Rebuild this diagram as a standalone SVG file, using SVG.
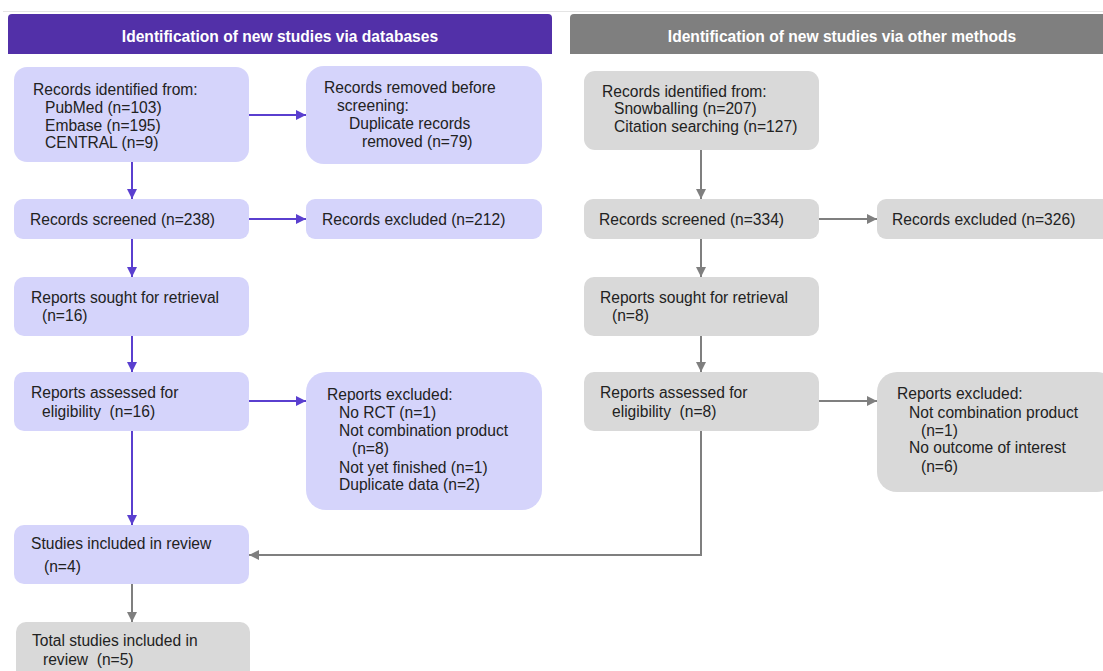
<svg xmlns="http://www.w3.org/2000/svg" width="1103" height="671" viewBox="0 0 1103 671">
<style>
text{font-family:"Liberation Sans",Arial,sans-serif;font-size:15.6px;fill:#222;white-space:pre}
.hd{font-weight:bold;fill:#fff;text-anchor:middle}
.pb{fill:#D5D4FB}
.gb{fill:#D9D9D9}
.pl{stroke:#5A3FCF;stroke-width:2;fill:none}
.gl{stroke:#7F7F7F;stroke-width:2;fill:none}
</style>
<defs>
<marker id="ap" viewBox="0 0 10 10" refX="10" refY="5" markerWidth="10" markerHeight="10" markerUnits="userSpaceOnUse" orient="auto"><path d="M0,0 L10,5 L0,10 z" fill="#5A3FCF"/></marker>
<marker id="ag" viewBox="0 0 10 10" refX="10" refY="5" markerWidth="10" markerHeight="10" markerUnits="userSpaceOnUse" orient="auto"><path d="M0,0 L10,5 L0,10 z" fill="#7F7F7F"/></marker>
</defs>
<rect width="1103" height="671" fill="#fff"/>
<line x1="3" y1="11.5" x2="1103" y2="11.5" stroke="#E4E4E4" stroke-width="1"/>

<g id="header-db">
<path d="M8,54 V18 Q8,14 12,14 H548 Q552,14 552,18 V54 Z" fill="#5230A8"/>
<text class="hd" x="280" y="42">Identification of new studies via databases</text>
</g>
<g id="header-other">
<path d="M570,54 V18 Q570,14 574,14 H1110 V54 Z" fill="#7F7F7F"/>
<text class="hd" x="842" y="42">Identification of new studies via other methods</text>
</g>

<g id="db-identified">
<rect class="pb" x="14" y="67" width="235" height="95" rx="13"/>
<text x="33" y="95">Records identified from:</text>
<text x="45" y="113">PubMed (n=103)</text>
<text x="45" y="131">Embase (n=195)</text>
<text x="45" y="148">CENTRAL (n=9)</text>
</g>
<g id="db-removed">
<rect class="pb" x="306" y="66" width="236" height="98" rx="18"/>
<text x="324" y="93">Records removed before</text>
<text x="337" y="111">screening:</text>
<text x="349" y="129">Duplicate records</text>
<text x="362" y="147">removed (n=79)</text>
</g>
<g id="db-screened">
<rect class="pb" x="14" y="199" width="235" height="40" rx="9"/>
<text x="30" y="225">Records screened (n=238)</text>
</g>
<g id="db-excluded">
<rect class="pb" x="306" y="199" width="236" height="40" rx="9"/>
<text x="322" y="225">Records excluded (n=212)</text>
</g>
<g id="db-sought">
<rect class="pb" x="14" y="277" width="235" height="59" rx="10"/>
<text x="31" y="303">Reports sought for retrieval</text>
<text x="42" y="321">(n=16)</text>
</g>
<g id="db-assessed">
<rect class="pb" x="14" y="372" width="235" height="59" rx="10"/>
<text x="31" y="398">Reports assessed for</text>
<text x="42" y="417">eligibility  (n=16)</text>
</g>
<g id="db-reports-excluded">
<rect class="pb" x="306" y="372" width="236" height="138" rx="20"/>
<text x="327" y="400">Reports excluded:</text>
<text x="339" y="418">No RCT (n=1)</text>
<text x="339" y="436">Not combination product</text>
<text x="352" y="454">(n=8)</text>
<text x="339" y="473">Not yet finished (n=1)</text>
<text x="339" y="490">Duplicate data (n=2)</text>
</g>
<g id="db-included">
<rect class="pb" x="14" y="525" width="235" height="59" rx="10"/>
<text x="31" y="549">Studies included in review</text>
<text x="44" y="572">(n=4)</text>
</g>
<g id="total-included">
<rect class="gb" x="16" y="622" width="234" height="70" rx="10"/>
<text x="32" y="646">Total studies included in</text>
<text x="43" y="665">review  (n=5)</text>
</g>

<g id="ot-identified">
<rect class="gb" x="584" y="71" width="235" height="79" rx="11"/>
<text x="602" y="97">Records identified from:</text>
<text x="614" y="114">Snowballing (n=207)</text>
<text x="614" y="132">Citation searching (n=127)</text>
</g>
<g id="ot-screened">
<rect class="gb" x="584" y="199" width="235" height="40" rx="9"/>
<text x="599" y="225">Records screened (n=334)</text>
</g>
<g id="ot-excluded">
<rect class="gb" x="877" y="199" width="236" height="40" rx="9"/>
<text x="892" y="225">Records excluded (n=326)</text>
</g>
<g id="ot-sought">
<rect class="gb" x="584" y="277" width="235" height="59" rx="10"/>
<text x="600" y="303">Reports sought for retrieval</text>
<text x="612" y="321">(n=8)</text>
</g>
<g id="ot-assessed">
<rect class="gb" x="584" y="372" width="235" height="59" rx="10"/>
<text x="600" y="398">Reports assessed for</text>
<text x="612" y="417">eligibility  (n=8)</text>
</g>
<g id="ot-reports-excluded">
<rect class="gb" x="877" y="372" width="240" height="120" rx="20"/>
<text x="897" y="399">Reports excluded:</text>
<text x="909" y="418">Not combination product</text>
<text x="921" y="436">(n=1)</text>
<text x="909" y="453">No outcome of interest</text>
<text x="921" y="472">(n=6)</text>
</g>

<g id="connectors">
<line class="pl" x1="249" y1="115" x2="306" y2="115" marker-end="url(#ap)"/>
<line class="pl" x1="132" y1="162" x2="132" y2="199" marker-end="url(#ap)"/>
<line class="pl" x1="249" y1="219" x2="306" y2="219" marker-end="url(#ap)"/>
<line class="pl" x1="132" y1="239" x2="132" y2="277" marker-end="url(#ap)"/>
<line class="pl" x1="132" y1="336" x2="132" y2="372" marker-end="url(#ap)"/>
<line class="pl" x1="249" y1="401" x2="306" y2="401" marker-end="url(#ap)"/>
<line class="pl" x1="132" y1="431" x2="132" y2="525" marker-end="url(#ap)"/>
<line class="gl" x1="132" y1="584" x2="132" y2="622" marker-end="url(#ag)"/>
<line class="gl" x1="701" y1="150" x2="701" y2="199" marker-end="url(#ag)"/>
<line class="gl" x1="819" y1="219" x2="877" y2="219" marker-end="url(#ag)"/>
<line class="gl" x1="701" y1="239" x2="701" y2="277" marker-end="url(#ag)"/>
<line class="gl" x1="701" y1="336" x2="701" y2="372" marker-end="url(#ag)"/>
<line class="gl" x1="819" y1="401" x2="877" y2="401" marker-end="url(#ag)"/>
<polyline class="gl" points="701,431 701,555 249,555" marker-end="url(#ag)"/>
</g>
</svg>
